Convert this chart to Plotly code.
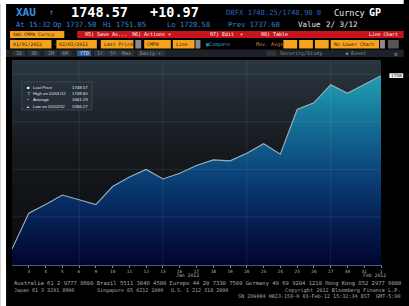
import plotly.graph_objects as go

# ---------------- data ----------------
DATES = ["2012-01-02", "2012-01-03", "2012-01-04", "2012-01-05", "2012-01-06",
         "2012-01-09", "2012-01-10", "2012-01-11", "2012-01-12", "2012-01-13",
         "2012-01-16", "2012-01-17", "2012-01-18", "2012-01-19", "2012-01-20",
         "2012-01-23", "2012-01-24", "2012-01-25", "2012-01-26", "2012-01-27",
         "2012-01-30", "2012-01-31", "2012-02-01"]
PRICES = [1566.27, 1604, 1613, 1623, 1618,
          1613, 1632, 1642, 1650, 1640,
          1646, 1654, 1660, 1659, 1667,
          1677, 1666, 1713, 1720, 1739,
          1730, 1739, 1748.57]
TICK_DATES = DATES[1:]
DAY_LABELS = ["3", "4", "5", "6", "9", "10", "11", "12", "13", "16", "17",
              "18", "19", "20", "23", "24", "25", "26", "27", "30", "31", "1"]
GRID_FRIDAYS = ["2012-01-06", "2012-01-13", "2012-01-20", "2012-01-27"]
Y_TICKS = [1550, 1600, 1650, 1700, 1750]
Y_TICK_TEXT = ["", "1600", "1650", "1700", ""]
LAST_PRICE = 1748.57
Y_RANGE = [1549.5, 1765]

LEGEND_ROWS = [("■", "Last Price", "1748.57"),
               ("┬", "High on 02/01/12", "1748.60"),
               ("•", "Average", "1661.19"),
               ("▴", "Low on 01/02/12", "1566.27")]

# ---------------- geometry helpers ----------------
W, H = 409, 306
ML, MR, MT, MB = 12, 23, 60, 41
PW, PH = W - ML - MR, H - MT - MB


def px(x):
    return (x - ML) / PW


def py(y):
    return (H - MB - y) / PH


def val_to_py(v):
    return H - MB - (v - Y_RANGE[0]) / (Y_RANGE[1] - Y_RANGE[0]) * PH


MONO = "DejaVu Sans Mono"
SANS = "Liberation Sans"
shapes = []
annots = []


def rect(x0, y0, x1, y1, color, layer="below", line=None):
    d = dict(type="rect", xref="paper", yref="paper",
             x0=px(x0), x1=px(x1), y0=py(y1), y1=py(y0),
             fillcolor=color, layer=layer, line=dict(width=0))
    if line:
        d["line"] = dict(color=line, width=0.6)
    shapes.append(d)


def txt(x, y, s, size, color, anchor="left", bold=False, family=MONO):
    if bold:
        s = "<b>" + s + "</b>"
    annots.append(dict(xref="paper", yref="paper", x=px(x), y=py(y), text=s,
                       showarrow=False, xanchor=anchor, yanchor="middle",
                       align=anchor, borderpad=0,
                       font=dict(size=size, color=color, family=family)))


fig = go.Figure()

# background gradient of the chart panel
fig.add_trace(go.Scatter(
    x=[DATES[0], DATES[-1]], y=[Y_RANGE[1], Y_RANGE[1]], mode="lines",
    line=dict(width=0), fill="tozeroy", hoverinfo="skip",
    fillgradient=dict(type="vertical", start=Y_RANGE[0], stop=Y_RANGE[1],
                      colorscale=[[0, "#0a0a0c"], [0.55, "#15191d"], [1, "#2a3640"]]),
    showlegend=False))

# area
fig.add_trace(go.Scatter(
    x=DATES, y=PRICES, mode="lines",
    line=dict(color="#9ab0c0", width=1.1),
    fill="tozeroy",
    fillgradient=dict(type="vertical", start=1550, stop=1750,
                      colorscale=[[0, "#01052c"], [0.25, "#052257"],
                                  [0.5, "#0c467c"], [0.75, "#147296"],
                                  [1, "#22a0b4"]]),
    showlegend=False))

# gridlines above the area
for g in Y_TICKS[1:]:
    shapes.append(dict(type="line", xref="paper", yref="y", x0=0, x1=1, y0=g, y1=g,
                       line=dict(color="rgba(200,215,230,0.14)", width=0.8), layer="above"))
for d in GRID_FRIDAYS:
    shapes.append(dict(type="line", xref="x", yref="paper", x0=d, x1=d, y0=0, y1=1,
                       line=dict(color="rgba(200,215,230,0.12)", width=0.8), layer="above"))

# ---------------- frame ----------------
rect(0, 0, W, 4, "#ffffff", layer="above")
rect(0, 0, 6, H, "#ffffff", layer="above")
rect(W - MR, 57, W, 265, "#000000", layer="above")

# header row 1
txt(15, 12.5, "XAU", 11, "#3d8fe0", bold=True)
txt(48, 12.5, "↑", 8, "#3d8fe0")
txt(71, 12.3, "1748.57", 13.5, "#ffffff", bold=True)
txt(151, 12.3, "+10.97", 13.5, "#ffffff", bold=True)
txt(228, 12.5, "DBFX 1748.25/1748.90 0", 7.2, "#2a66c0")
txt(337, 12.5, "Curncy", 8.5, "#e8e8e8")
txt(373, 12.5, "GP", 10, "#ffffff", bold=True)

# header row 2
for x, s in [(15, "At 15:32"), (53, "Op 1737.50"), (103, "Hi 1751.05"),
             (168, "Lo 1728.58"), (230, "Prev 1737.60")]:
    txt(x, 24.6, s, 7.2, "#3a80d0")
txt(301, 24.6, "Value", 7.5, "#e8e8e8")
txt(329, 24.6, "2/ 3/12", 7.5, "#e8e8e8")

# row 3: orange security box and red menu bar
rect(10, 31, 65, 38, "#f5a21e")
txt(12, 34.5, "XAU CMPN Curncy", 4.6, "#3a2000")
rect(78, 31, W, 38, "#c8141c")
for x, s in [(85, "95) Save As..."), (133, "96) Actions ▾"), (212, "97) Edit  ▾"),
             (263, "98) Table")]:
    txt(x, 34.5, s, 5, "#ffffff")
txt(404, 34.5, "Line Chart", 4.8, "#ffffff", anchor="right")

# row 4: input boxes
for x0, x1, s in [(10, 52, "01/01/2012"), (57, 98, "02/03/2012"),
                  (102, 135, "Last Price"), (146, 173, "CMPN"), (175, 197, "Line"),
                  (287, 301, ""), (303, 317, ""), (319, 333, ""),
                  (335, 384, "No Lower Chart")]:
    rect(x0, 40, x1, 48.5, "#f5a21e")
    if s:
        txt(x0 + 2, 44.3, s, 4.8, "#3a2000")
txt(54, 44.3, "-", 5, "#dddddd")
for x0, x1 in [(137, 143), (198, 203), (385, 390)]:
    rect(x0, 40, x1, 48.5, "#8a8a8a")
rect(393, 40, 404, 48.5, "#555555")
txt(208, 44.3, "▦Compare", 5, "#2aa0c8")
txt(258, 44.3, "Mov. Avgs", 5, "#d08a20")

# row 5: buttons
rect(6, 49.5, W, 57, "#1c2228")
for x, s in [(15, "1D"), (30, "3D"), (47, "1M"), (62, "6M"), (97, "1Y"),
             (110, "5Y"), (122, "Max"), (141, "Daily ▾")]:
    rect(x - 2, 50.5, x + 4 + 3.2 * len(s), 56, "#2b3239")
    txt(x, 53.3, s, 5, "#8a949c")
rect(78, 50.5, 92, 56, "#2f5f9a")
txt(80, 53.3, "YTD", 5, "#d0e4ff")
rect(270, 50.5, 280, 56, "#2b3239")
txt(283, 53.3, "Security/Study", 5, "#8a949c")
txt(348, 53.3, "◀ Event", 5, "#8a949c")
txt(398, 53.3, "⚙", 6, "#8a949c")

# chart panel left strip
rect(6, 57, ML, 265, "#000000", layer="above")

# legend box
rect(22, 82, 93, 110, "rgba(38,48,58,0.85)", layer="above", line="#4a5866")
for i, (m, lab, val) in enumerate(LEGEND_ROWS):
    yy = 87 + i * 6.4
    txt(26, yy, m, 4.3, "#ffffff", family=SANS)
    txt(32, yy, lab, 4.3, "#e6e6e6", family=SANS)
    txt(90, yy, val, 4.3, "#e6e6e6", anchor="right", family=SANS)

# last price label box
lp_y = val_to_py(LAST_PRICE)
rect(394.5, lp_y - 2.4, 408.5, lp_y + 2.4, "#f0f0f0", layer="above")
txt(395.5, lp_y, "1748.57", 4.4, "#222222")

# month labels
txt(190, 275.5, "Jan 2012", 4.8, "#b0b0b0", anchor="center")
txt(379, 275.5, "Feb 2012", 4.8, "#b0b0b0", anchor="center")

# footer
txt(13, 283.8, "Australia 61 2 9777 8600 Brazil 5511 3048 4500 Europe 44 20 7330 7500 "
               "Germany 49 69 9204 1210 Hong Kong 852 2977 6000", 5.5, "#a8a8a8")
txt(13, 290, "Japan 81 3 3201 8900", 5, "#a8a8a8")
txt(97, 290, "Singapore 65 6212 1000", 5, "#a8a8a8")
txt(172, 290, "U.S. 1 212 318 2000", 5, "#a8a8a8")
txt(407, 290, "Copyright 2012 Bloomberg Finance L.P.", 5.2, "#a8a8a8", anchor="right")
txt(407, 296.3, "SN 209084 H823-150-0 03-Feb-12 15:32:34 EST  GMT-5:00", 5.1,
    "#a8a8a8", anchor="right")

fig.update_layout(
    width=W, height=H,
    margin=dict(l=ML, r=MR, t=MT, b=MB, pad=0),
    paper_bgcolor="#000000", plot_bgcolor="#1a2127",
    shapes=shapes, annotations=annots,
    showlegend=False,
    xaxis=dict(type="category", categoryorder="array", categoryarray=DATES,
               range=[0, len(DATES) - 1], tickvals=TICK_DATES, ticktext=DAY_LABELS,
               showgrid=False, zeroline=False, showline=True, linecolor="#4b5a70",
               linewidth=1, ticks="outside", ticklen=2, tickcolor="#7a8898",
               tickfont=dict(size=4.4, color="#b0b0b0", family=MONO)),
    yaxis=dict(side="right", range=Y_RANGE, tickvals=Y_TICKS, ticktext=Y_TICK_TEXT,
               showgrid=False, zeroline=False, showline=True, linecolor="#5a6470",
               linewidth=0.8, ticks="outside", ticklen=3, tickcolor="#dddddd",
               tickfont=dict(size=4.4, color="#b0b0b0", family=MONO),
               minor=dict(dtick=25, ticks="outside", ticklen=1.5, tickcolor="#888888")),
)

# Remove the page margin, and render tiny texts at a larger size scaled back
# down around their anchor (browsers clamp very small font sizes).
POST_JS = """
document.body.style.margin = '0';
document.body.style.padding = '0';
var texts = document.querySelectorAll('.js-plotly-plot text');
texts.forEach(function(el){
  var fs = parseFloat(el.style.fontSize);
  if (!fs || fs >= 10) return;
  var bb0 = el.getBBox();
  var cy0 = bb0.y + bb0.height / 2;
  var m = 20 / fs;
  el.style.fontSize = (fs * m) + 'px';
  var bb = el.getBBox();
  var anchor = el.getAttribute('text-anchor') || 'start';
  var cx = anchor === 'end' ? bb.x + bb.width : (anchor === 'middle' ? bb.x + bb.width / 2 : bb.x);
  var cy = bb.y + bb.height / 2;
  var s = 1 / m;
  var t = el.getAttribute('transform') || '';
  el.setAttribute('transform', t + ' translate(' + cx + ',' + cy0 + ') scale(' + s + ') translate(' + (-cx) + ',' + (-cy) + ')');
});
"""

fig.write_html("out.html", post_script=POST_JS, config={"displayModeBar": False})
